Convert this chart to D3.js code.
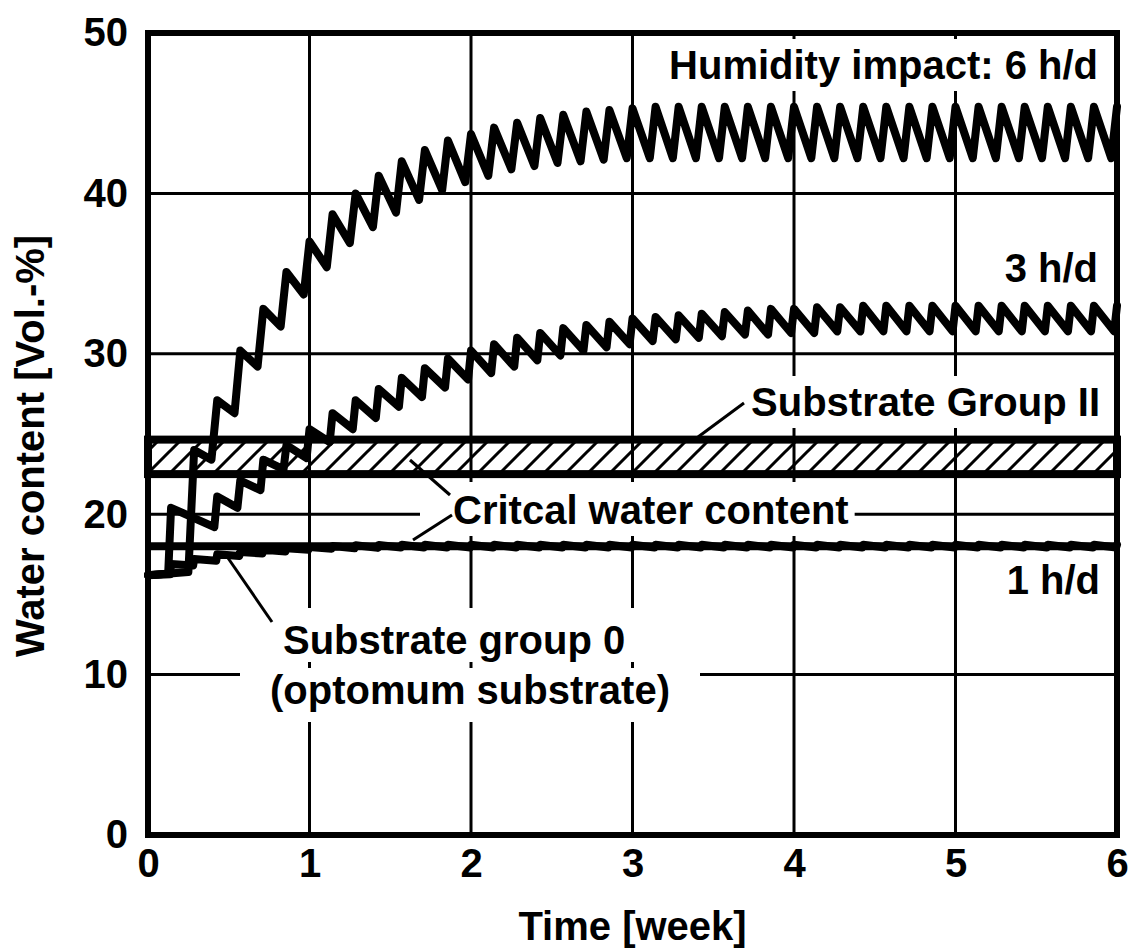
<!DOCTYPE html>
<html>
<head>
<meta charset="utf-8">
<script src="https://cdnjs.cloudflare.com/ajax/libs/d3/7.8.5/d3.min.js"></script>
<style>
  body { margin: 0; background: #fff; }
  text { font-family: "Liberation Sans", Arial, sans-serif; font-weight: bold; fill: #000; }
</style>
</head>
<body>
<div id="chart"></div>
<script>
// axis ticks
var weekTicks = [0, 1, 2, 3, 4, 5, 6];
var waterTicks = [0, 10, 20, 30, 40, 50];

// critical water contents
var criticalGroup0 = 18;
var criticalGroupII = [22.5, 24.65];

// 6 h/d : values at t=0 and just before the first impact, then daily peaks (day 2..42)
// and the troughs reached before the next impact (after day 2..41)
var start6 = [16.2, 16.4];
var peak6 = [24.0, 27.1, 30.2, 32.8, 35.1, 37.0, 38.7, 40.0, 41.1, 42.0,
             42.7, 43.3, 43.7, 44.1, 44.4, 44.7, 44.9, 45.1, 45.2, 45.3,
             45.4, 45.4, 45.4, 45.4, 45.4, 45.4, 45.4, 45.4, 45.4, 45.4,
             45.4, 45.4, 45.4, 45.4, 45.4, 45.4, 45.4, 45.4, 45.4, 45.4, 45.4];
var trough6 = [23.4, 26.3, 29.2, 31.7, 33.7, 35.4, 36.9, 37.9, 38.8, 39.6,
               40.2, 40.7, 41.1, 41.5, 41.7, 41.9, 42.0, 42.1, 42.2, 42.2,
               42.2, 42.2, 42.2, 42.2, 42.2, 42.2, 42.2, 42.2, 42.2, 42.2,
               42.2, 42.2, 42.2, 42.2, 42.2, 42.2, 42.2, 42.2, 42.2, 42.2];

// 3 h/d : first days (t = 0, 0.875, 1, 2.875), then peaks day 3..42 and troughs after day 3..41
var start3 = [16.2, 16.3, 20.4, 19.2];
var peak3 = [21.1, 22.1, 23.4, 24.3, 25.3, 26.3, 27.1, 27.8, 28.5, 29.1,
             29.7, 30.2, 30.6, 31.0, 31.3, 31.6, 31.8, 32.0, 32.2, 32.3,
             32.4, 32.5, 32.6, 32.7, 32.8, 32.8, 32.9, 32.9, 33.0, 33.0,
             33.0, 33.0, 33.0, 33.0, 33.0, 33.0, 33.0, 33.0, 33.0, 33.0];
var trough3 = [20.4, 21.5, 22.8, 23.5, 24.5, 25.3, 26.0, 26.7, 27.3, 27.9,
               28.4, 28.8, 29.2, 29.6, 29.9, 30.2, 30.4, 30.6, 30.8, 30.9,
               31.0, 31.1, 31.2, 31.2, 31.3, 31.3, 31.4, 31.4, 31.4, 31.4,
               31.4, 31.4, 31.4, 31.4, 31.4, 31.4, 31.4, 31.4, 31.4];

// 1 h/d : start value, then trough before and peak after each daily impact (day 1..42)
var start1 = 16.2;
var peak1 = [16.9, 17.2, 17.5, 17.65, 17.78, 17.88, 17.96, 18.02, 18.06, 18.08,
             18.1, 18.1, 18.1, 18.1, 18.1, 18.1, 18.1, 18.1, 18.1, 18.1,
             18.1, 18.1, 18.1, 18.1, 18.1, 18.1, 18.1, 18.1, 18.1, 18.1,
             18.1, 18.1, 18.1, 18.1, 18.1, 18.1, 18.1, 18.1, 18.1, 18.1, 18.1, 18.1];
var trough1 = [16.25, 16.8, 17.1, 17.4, 17.55, 17.68, 17.78, 17.85, 17.88, 17.9,
               17.92, 17.92, 17.92, 17.92, 17.92, 17.92, 17.92, 17.92, 17.92, 17.92,
               17.92, 17.92, 17.92, 17.92, 17.92, 17.92, 17.92, 17.92, 17.92, 17.92,
               17.92, 17.92, 17.92, 17.92, 17.92, 17.92, 17.92, 17.92, 17.92, 17.92, 17.92, 17.92];

function drawChart(){

    var margin = {top: 33, right: 15, bottom: 117, left: 148},
        width = 1132 - margin.left - margin.right,
        height = 952 - margin.top - margin.bottom;

    var x = d3.scaleLinear().domain([0, 6]).range([0, width]);
    var y = d3.scaleLinear().domain([0, 50]).range([height, 0]);
    // series are kept in days, the axis is in weeks
    var xd = function(t) { return x(t / 7); };

    var svg = d3.select("#chart").append("svg")
        .attr("width", 1132)
        .attr("height", 952);

    var defs = svg.append("defs");
    var pat = defs.append("pattern")
        .attr("id", "hatch")
        .attr("patternUnits", "userSpaceOnUse")
        .attr("width", 22)
        .attr("height", 22);
    pat.append("path")
        .attr("d", "M-5.5,5.5 L5.5,-5.5 M0,22 L22,0 M16.5,27.5 L27.5,16.5")
        .attr("stroke", "#000")
        .attr("stroke-width", 3);

    var g = svg.append("g")
        .attr("transform", "translate(" + margin.left + "," + margin.top + ")");

    // grid
    g.selectAll(".vgrid")
        .data(weekTicks.slice(1, -1))
        .enter().append("line")
        .attr("class", "vgrid")
        .attr("x1", function(d) { return x(d); })
        .attr("x2", function(d) { return x(d); })
        .attr("y1", 0)
        .attr("y2", height)
        .attr("stroke", "#000")
        .attr("stroke-width", 3);
    g.selectAll(".hgrid")
        .data(waterTicks.slice(1, -1))
        .enter().append("line")
        .attr("class", "hgrid")
        .attr("x1", 0)
        .attr("x2", width)
        .attr("y1", function(d) { return y(d); })
        .attr("y2", function(d) { return y(d); })
        .attr("stroke", "#000")
        .attr("stroke-width", 3);

    var bgLayer = g.append("g");

    // substrate group II band
    g.append("rect")
        .attr("x", x(0))
        .attr("y", y(criticalGroupII[1]))
        .attr("width", x(6) - x(0))
        .attr("height", y(criticalGroupII[0]) - y(criticalGroupII[1]))
        .attr("fill", "url(#hatch)")
        .attr("stroke", "#000")
        .attr("stroke-width", 8);

    // critical line of substrate group 0
    g.append("line")
        .attr("x1", x(0)).attr("x2", x(6))
        .attr("y1", y(criticalGroup0)).attr("y2", y(criticalGroup0))
        .attr("stroke", "#000")
        .attr("stroke-width", 8);

    // build series points
    var pts6 = [{t: 0, v: start6[0]}, {t: 1.75, v: start6[1]}];
    peak6.forEach(function(v, i) {
        pts6.push({t: i + 2, v: v});
        if (i < trough6.length) pts6.push({t: i + 2.75, v: trough6[i]});
    });

    var startT3 = [0, 0.875, 1, 2.875];
    var pts3 = start3.map(function(v, i) { return {t: startT3[i], v: v}; });
    peak3.forEach(function(v, i) {
        pts3.push({t: i + 3, v: v});
        if (i < trough3.length) pts3.push({t: i + 3.875, v: trough3[i]});
    });

    var pts1 = [{t: 0, v: start1}];
    peak1.forEach(function(v, i) {
        pts1.push({t: i + 1 - 1 / 24, v: trough1[i]});
        pts1.push({t: i + 1, v: v});
    });

    var line = d3.line()
        .x(function(d) { return xd(d.t); })
        .y(function(d) { return y(d.v); });

    [pts1, pts3, pts6].forEach(function(pts) {
        g.append("path")
            .attr("d", line(pts))
            .attr("fill", "none")
            .attr("stroke", "#000")
            .attr("stroke-width", 8)
            .attr("stroke-linejoin", "round")
            .attr("stroke-linecap", "round");
    });

    // leader lines
    var leaders = [
        [[744, 403], [698, 437]],
        [[450, 495], [410, 460]],
        [[452, 515], [413, 540]],
        [[228, 558], [272, 622]]
    ];
    svg.selectAll(".leader")
        .data(leaders)
        .enter().append("line")
        .attr("class", "leader")
        .attr("x1", function(d) { return d[0][0]; })
        .attr("y1", function(d) { return d[0][1]; })
        .attr("x2", function(d) { return d[1][0]; })
        .attr("y2", function(d) { return d[1][1]; })
        .attr("stroke", "#000")
        .attr("stroke-width", 3);

    // labels with white boxes behind them
    function label(txt, px, py, anchor, pad) {
        var t = svg.append("text")
            .attr("x", px)
            .attr("y", py)
            .attr("text-anchor", anchor)
            .style("font-size", "40px")
            .text(txt);
        var b = t.node().getBBox();
        bgLayer.append("rect")
            .attr("x", b.x - pad[0] - margin.left)
            .attr("y", b.y - pad[1] - margin.top)
            .attr("width", b.width + pad[0] + pad[2])
            .attr("height", b.height + pad[1] + pad[3])
            .attr("fill", "#fff");
    }
    label("Humidity impact: 6 h/d", 1098, 79, "end", [6, 4, 6, 4]);
    label("3 h/d", 1098, 282, "end", [6, 4, 6, 4]);
    label("Substrate Group II", 1100, 416, "end", [8, 4, 6, 4]);
    label("Critcal water content", 453, 524, "start", [33, 6, 6, 4]);
    label("1 h/d", 1100, 594, "end", [6, 4, 6, 4]);
    label("Substrate group 0", 283, 654, "start", [40, 10, 30, 0]);
    label("(optomum substrate)", 270, 704, "start", [30, 0, 30, 10]);

    // axes
    g.append("g")
        .attr("transform", "translate(0," + height + ")")
        .call(d3.axisBottom(x).tickValues(weekTicks).tickFormat(d3.format("d")).tickSize(0).tickPadding(14))
        .call(function(s) { s.select(".domain").remove(); })
        .selectAll("text")
        .style("font-size", "40px")
        .style("font-family", "'Liberation Sans', Arial, sans-serif")
        .style("font-weight", "bold");
    g.append("g")
        .call(d3.axisLeft(y).tickValues(waterTicks).tickFormat(d3.format("d")).tickSize(0).tickPadding(20))
        .call(function(s) { s.select(".domain").remove(); })
        .selectAll("text")
        .style("font-size", "40px")
        .style("font-family", "'Liberation Sans', Arial, sans-serif")
        .style("font-weight", "bold");

    // frame
    g.append("rect")
        .attr("x", 0).attr("y", 0)
        .attr("width", width).attr("height", height)
        .attr("fill", "none")
        .attr("stroke", "#000")
        .attr("stroke-width", 6);

    svg.append("text")
        .attr("x", margin.left + width / 2)
        .attr("y", 940)
        .attr("text-anchor", "middle")
        .style("font-size", "40px")
        .text("Time [week]");
    svg.append("text")
        .attr("transform", "translate(44," + (margin.top + height / 2 + 12) + ") rotate(-90)")
        .attr("text-anchor", "middle")
        .style("font-size", "40px")
        .text("Water content [Vol.-%]");
}
drawChart();
</script>
</body>
</html>
